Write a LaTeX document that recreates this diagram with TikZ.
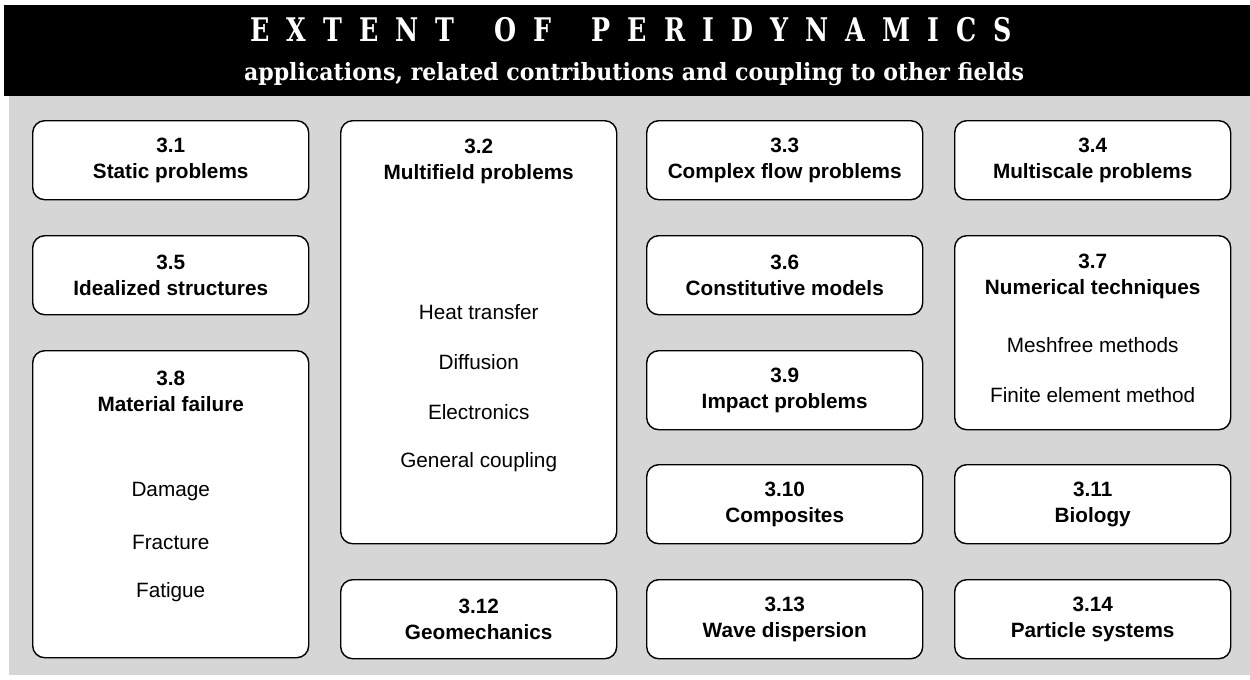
\documentclass[tikz,border=0pt]{standalone}
\usepackage{fontspec}
\setmainfont{Liberation Sans}
\newfontfamily\slabfont[FakeStretch=0.78]{DejaVu Serif}
\newfontfamily\slabwidefont[FakeStretch=0.93]{DejaVu Serif}
\usepackage{tikz}
\usetikzlibrary{
  positioning, calc, backgrounds
}
\definecolor{panelgray}{RGB}{214,214,214}

\tikzset{
  topic/.style={draw, line width=0.8pt, fill=white, rounded corners=2.4mm, anchor=north west,
    minimum width=55.2mm, minimum height=15.8mm, inner sep=0pt, align=center,
    font=\fontsize{11.8}{14.8}\selectfont\bfseries},
  head/.style={align=center, inner sep=0pt, font=\fontsize{11.8}{14.8}\selectfont\bfseries},
  item/.style={inner sep=0pt, font=\fontsize{11.8}{14}\selectfont},
}

\begin{document}
\begin{tikzpicture}[x=0.2mm,y=-0.2mm]
    \useasboundingbox (0,0) rectangle (1250,679);
    \fill[black] (4,5) rectangle (1250,96);
    \fill[panelgray] (9,96) rectangle (1250,675);

\node[text=white, font=\slabfont\bfseries\fontsize{18.5}{18}\selectfont] (title) at (631,30)
    {\spaceskip=9.7pt E X T E N T\hspace{13pt} O F\hspace{13pt} P E R I D Y N A M I C S};
\node[text=white, font=\slabwidefont\bfseries\fontsize{13.5}{14}\selectfont] (subtitle) at (634,74)
    {applications, related contributions and coupling to other fields};

% first column
\node[topic] (b31) at (32,120) {3.1\\Static problems};
\node[topic] (b35) at (32,235) {3.5\\Idealized structures};
\node[topic, minimum height=61.4mm] (b38) at (32,350) {};
\node[head] (h38) at ($(b38.north)+(0,41)$) {3.8\\Material failure};
\foreach \txt [count=\i] in {Damage, Fracture, Fatigue}
    \node[item] (b38-\i) at ($(b38.north)+(0,92+50*\i)$) {\txt};

% second column
\node[topic, minimum height=84.6mm] (b32) at (340,120) {};
\node[head] (h32) at ($(b32.north)+(0,41)$) {3.2\\Multifield problems};
\foreach \txt [count=\i] in {Heat transfer, Diffusion, Electronics, General coupling}
    \node[item] (b32-\i) at ($(b32.north)+(0,142+50*\i)$) {\txt};
\node[topic] (b312) at (340,579) {3.12\\Geomechanics};

% third column
\node[topic] (b33) at (646,120) {3.3\\Complex flow problems};
\node[topic] (b36) at (646,235) {3.6\\Constitutive models};
\node[topic] (b39) at (646,350) {3.9\\Impact problems};
\node[topic] (b310) at (646,464) {3.10\\Composites};
\node[topic] (b313) at (646,579) {3.13\\Wave dispersion};

% fourth column
\node[topic] (b34) at (954,120) {3.4\\Multiscale problems};
\node[topic, minimum height=38.8mm] (b37) at (954,235) {};
\node[head] (h37) at ($(b37.north)+(0,41)$) {3.7\\Numerical techniques};
\foreach \txt [count=\i] in {Meshfree methods, Finite element method}
    \node[item] (b37-\i) at ($(b37.north)+(0,60+50*\i)$) {\txt};
\node[topic] (b311) at (954,464) {3.11\\Biology};
\node[topic] (b314) at (954,579) {3.14\\Particle systems};
\end{tikzpicture}
\end{document}
